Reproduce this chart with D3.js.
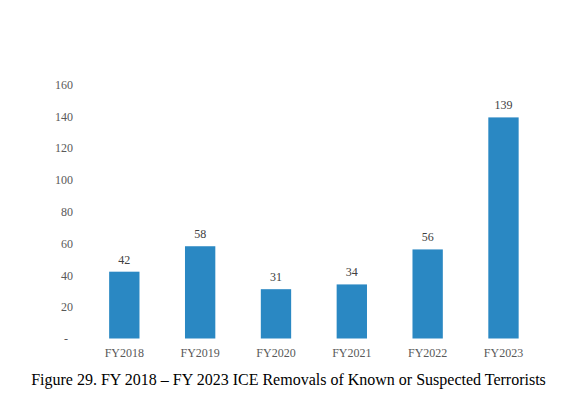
<!DOCTYPE html>
<html>
<head>
<meta charset="utf-8">
<script src="https://cdn.jsdelivr.net/npm/d3@7"></script>
<style>
    body { margin: 0; background: #fff; }
    svg { display: block; }
</style>
</head>
<body>
<div id="chart"></div>
<script>
(function() {
    var years = ['FY2018', 'FY2019', 'FY2020', 'FY2021', 'FY2022', 'FY2023'];
    var removals = [42, 58, 31, 34, 56, 139];
    var yTicks = [0, 20, 40, 60, 80, 100, 120, 140, 160];
    var title = 'Figure 29. FY 2018 \u2013 FY 2023 ICE Removals of Known or Suspected Terrorists';

    var WIDTH = 579, HEIGHT = 397;
    var BAR_COLOR = '#2a88c3';
    var FONT = '"Liberation Serif", "Times New Roman", serif';

    var svg = d3.select('#chart').append('svg')
        .attr('width', WIDTH)
        .attr('height', HEIGHT);

    // scales, pixel ranges
    var x = d3.scaleBand()
        .domain(years)
        .range([86.4, 541.4])
        .paddingInner(0.6)
        .paddingOuter(0.3);

    var y = d3.scaleLinear()
        .domain([0, 160])
        .range([338.5, 84]);

    // y axis, no line, accounting style "-" for zero
    var yAxis = d3.axisLeft(y)
        .tickValues(yTicks)
        .tickSize(0)
        .tickPadding(0)
        .tickFormat(function(d) { return d === 0 ? '-' : d; });

    var gy = svg.append('g')
        .attr('transform', 'translate(73,0)')
        .call(yAxis);
    gy.select('.domain').remove();
    gy.selectAll('text')
        .attr('font-family', FONT)
        .attr('font-size', 12)
        .attr('fill', '#595959')
        .attr('dy', '0.35em')
        .attr('dx', function(d) { return d === 0 ? -5 : 0; });

    // x axis
    var xAxis = d3.axisBottom(x).tickSize(0).tickPadding(0);
    var gx = svg.append('g')
        .attr('transform', 'translate(0,' + y(0) + ')')
        .call(xAxis);
    gx.select('.domain').remove();
    gx.selectAll('text')
        .attr('font-family', FONT)
        .attr('font-size', 12)
        .attr('fill', '#595959')
        .attr('y', 18)
        .attr('dy', 0);

    var data = years.map(function(yr, i) { return {year: yr, value: removals[i]}; });

    // bars
    svg.append('g').selectAll('rect')
        .data(data)
        .enter().append('rect')
        .attr('x', function(d) { return x(d.year); })
        .attr('y', function(d) { return y(d.value); })
        .attr('width', x.bandwidth())
        .attr('height', function(d) { return y(0) - y(d.value); })
        .attr('fill', BAR_COLOR);

    // value labels
    svg.append('g').selectAll('text')
        .data(data)
        .enter().append('text')
        .attr('x', function(d) { return x(d.year) + x.bandwidth() / 2; })
        .attr('y', function(d) { return y(d.value) - 8; })
        .attr('text-anchor', 'middle')
        .attr('font-family', FONT)
        .attr('font-size', 12)
        .attr('fill', '#404040')
        .text(function(d) { return d.value; });

    // caption
    svg.append('text')
        .attr('x', 288.5)
        .attr('y', 385)
        .attr('text-anchor', 'middle')
        .attr('font-family', FONT)
        .attr('font-size', 16)
        .attr('fill', '#000')
        .text(title);
})();
</script>
</body>
</html>
